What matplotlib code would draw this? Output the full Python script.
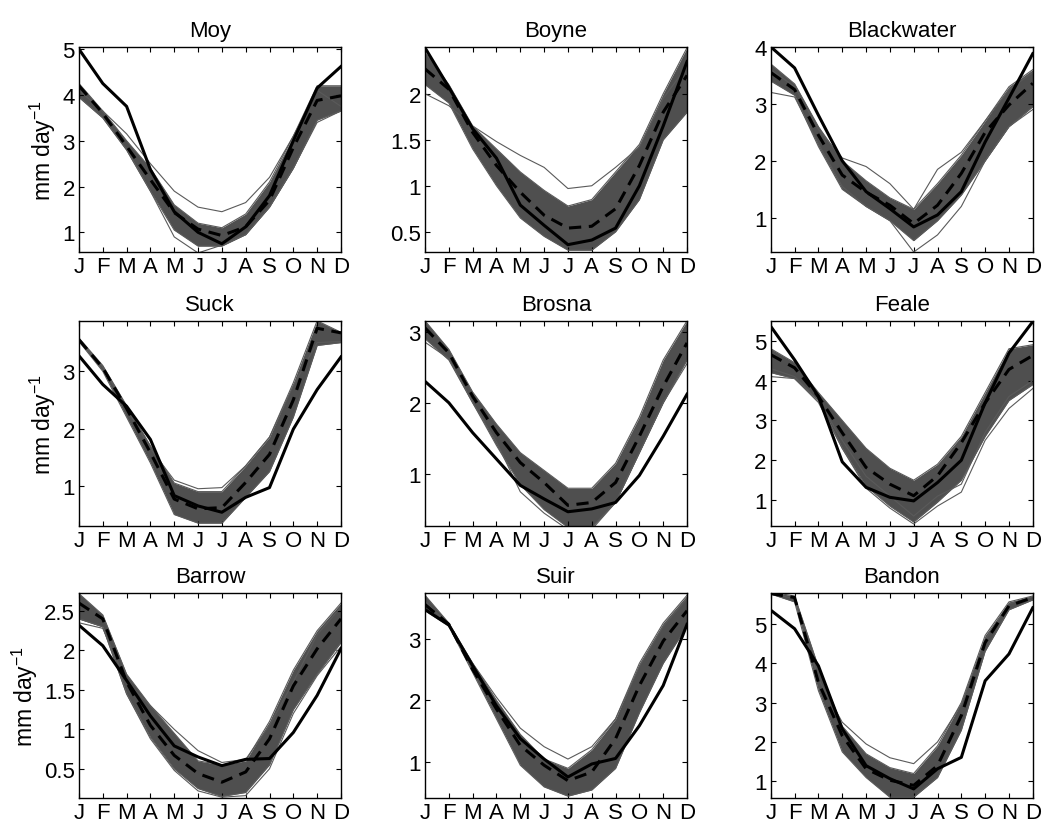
import matplotlib
matplotlib.use("Agg")
from matplotlib import pyplot as plt
from matplotlib.ticker import FormatStrFormatter

plt.rcParams['font.family'] = ['Liberation Sans', 'DejaVu Sans']
plt.rcParams['mathtext.fontset'] = 'custom'
plt.rcParams['mathtext.rm'] = 'Liberation Sans'

months = ['J', 'F', 'M', 'A', 'M', 'J', 'J', 'A', 'S', 'O', 'N', 'D']

# observed (solid), ensemble mean (dashed), ensemble core band, outlier members
moy_obs = [5.0, 4.25, 3.75, 2.37, 1.45, 1.0, 0.75, 1.12, 1.8, 3.0, 4.15, 4.62]
moy_mean = [4.2, 3.6, 2.88, 2.15, 1.43, 1.07, 0.93, 1.12, 1.7, 2.85, 3.88, 3.98]
moy_hi = [4.25, 3.65, 3.0, 2.4, 1.6, 1.2, 1.1, 1.4, 2.1, 3.1, 4.2, 4.2]
moy_lo = [3.95, 3.5, 2.8, 1.9, 1.05, 0.7, 0.7, 0.95, 1.55, 2.4, 3.45, 3.65]
moy_out = [[4.1, 3.65, 3.15, 2.5, 1.9, 1.55, 1.45, 1.65, 2.2, 3.1, 4.1, 3.75],
           [3.95, 3.5, 2.8, 1.9, 0.9, 0.55, 0.72, 0.95, 1.55, 2.4, 3.4, 3.65]]

boyne_obs = [2.5, 2.07, 1.62, 1.3, 0.79, 0.57, 0.36, 0.41, 0.54, 1.0, 1.65, 2.35]
boyne_mean = [2.27, 2.05, 1.58, 1.22, 0.93, 0.68, 0.54, 0.56, 0.75, 1.22, 1.8, 2.2]
boyne_hi = [2.45, 2.1, 1.65, 1.4, 1.15, 0.95, 0.78, 0.85, 1.15, 1.45, 2.0, 2.5]
boyne_lo = [2.1, 1.9, 1.4, 1.0, 0.65, 0.45, 0.3, 0.3, 0.5, 0.85, 1.5, 1.8]
boyne_out = [[2.0, 1.87, 1.65, 1.48, 1.33, 1.2, 0.97, 1.0, 1.2, 1.42, 1.95, 2.3]]

blackwater_obs = [4.0, 3.63, 2.8, 2.0, 1.46, 1.16, 0.84, 1.05, 1.46, 2.33, 3.1, 3.88]
blackwater_mean = [3.55, 3.25, 2.45, 1.75, 1.45, 1.22, 0.9, 1.22, 1.78, 2.5, 2.98, 3.36]
blackwater_hi = [3.7, 3.35, 2.6, 2.0, 1.65, 1.35, 1.15, 1.6, 2.1, 2.7, 3.3, 3.6]
blackwater_lo = [3.4, 3.15, 2.25, 1.5, 1.2, 0.95, 0.6, 0.95, 1.4, 2.0, 2.6, 2.95]
blackwater_out = [[3.6, 3.3, 2.55, 2.05, 1.9, 1.6, 1.15, 1.85, 2.15, 2.7, 3.25, 3.55],
                  [3.2, 3.12, 2.3, 1.55, 1.2, 0.95, 0.4, 0.7, 1.2, 2.0, 2.6, 2.9]]

suck_obs = [3.27, 2.77, 2.39, 1.81, 0.83, 0.65, 0.54, 0.8, 0.97, 1.99, 2.68, 3.25]
suck_mean = [3.55, 3.06, 2.35, 1.58, 0.77, 0.6, 0.62, 1.06, 1.55, 2.5, 3.75, 3.67]
suck_hi = [3.58, 3.1, 2.4, 1.7, 1.05, 0.9, 0.9, 1.35, 1.85, 2.8, 3.88, 3.68]
suck_lo = [3.52, 3.0, 2.2, 1.4, 0.5, 0.35, 0.35, 0.8, 1.25, 2.2, 3.45, 3.5]
suck_out = [[3.55, 3.08, 2.35, 1.65, 1.1, 0.95, 0.97, 1.35, 1.85, 2.75, 3.5, 3.52]]

brosna_obs = [2.3, 2.0, 1.58, 1.21, 0.84, 0.65, 0.47, 0.51, 0.6, 0.98, 1.53, 2.12]
brosna_mean = [3.05, 2.7, 2.09, 1.58, 1.16, 0.88, 0.56, 0.6, 0.88, 1.53, 2.23, 2.84]
brosna_hi = [3.15, 2.75, 2.15, 1.7, 1.3, 1.05, 0.8, 0.8, 1.15, 1.8, 2.6, 3.15]
brosna_lo = [2.9, 2.6, 2.0, 1.4, 0.85, 0.5, 0.25, 0.25, 0.6, 1.3, 2.0, 2.6]
brosna_out = [[2.85, 2.62, 2.0, 1.45, 0.75, 0.45, 0.22, 0.22, 0.6, 1.3, 2.0, 2.55]]

feale_obs = [5.36, 4.52, 3.6, 1.96, 1.32, 1.07, 0.98, 1.44, 2.0, 3.44, 4.69, 5.48]
feale_mean = [4.65, 4.32, 3.6, 2.69, 1.82, 1.4, 1.11, 1.61, 2.44, 3.44, 4.28, 4.63]
feale_hi = [4.8, 4.45, 3.7, 3.0, 2.3, 1.8, 1.5, 1.9, 2.6, 3.7, 4.8, 4.9]
feale_lo = [4.2, 4.05, 3.5, 2.3, 1.35, 0.85, 0.45, 0.95, 1.5, 2.6, 3.5, 3.9]
feale_out = [[4.1, 4.05, 3.45, 2.3, 1.3, 0.8, 0.4, 0.85, 1.2, 2.5, 3.3, 3.8],
             [4.3, 4.1, 3.5, 2.5, 1.6, 1.1, 0.6, 1.1, 1.4, 2.7, 3.6, 4.0]]

barrow_obs = [2.32, 2.06, 1.62, 1.17, 0.79, 0.65, 0.54, 0.62, 0.63, 0.96, 1.43, 2.02]
barrow_mean = [2.6, 2.4, 1.6, 1.05, 0.67, 0.44, 0.33, 0.46, 0.88, 1.55, 2.02, 2.4]
barrow_hi = [2.72, 2.45, 1.7, 1.3, 0.95, 0.6, 0.55, 0.6, 1.1, 1.75, 2.25, 2.6]
barrow_lo = [2.4, 2.3, 1.45, 0.9, 0.5, 0.25, 0.15, 0.2, 0.55, 1.25, 1.7, 2.1]
barrow_out = [[2.35, 2.28, 1.6, 1.3, 1.0, 0.73, 0.58, 0.62, 1.05, 1.6, 2.2, 2.55],
              [2.4, 2.3, 1.45, 0.88, 0.48, 0.22, 0.14, 0.16, 0.5, 1.2, 1.68, 2.05]]

suir_obs = [3.47, 3.22, 2.56, 1.91, 1.38, 1.05, 0.76, 0.97, 1.06, 1.59, 2.24, 3.23]
suir_mean = [3.55, 3.23, 2.5, 1.86, 1.27, 0.95, 0.7, 0.84, 1.38, 2.24, 2.96, 3.45]
suir_hi = [3.7, 3.25, 2.6, 2.0, 1.45, 1.05, 0.9, 1.2, 1.7, 2.6, 3.25, 3.7]
suir_lo = [3.45, 3.2, 2.45, 1.7, 0.95, 0.6, 0.45, 0.55, 0.9, 1.8, 2.6, 3.2]
suir_out = [[3.6, 3.22, 2.6, 2.05, 1.55, 1.25, 1.05, 1.25, 1.7, 2.55, 3.2, 3.65]]

bandon_obs = [5.34, 4.87, 3.93, 2.33, 1.4, 1.07, 0.81, 1.32, 1.61, 3.55, 4.23, 5.4]
bandon_mean = [5.76, 5.66, 3.51, 2.16, 1.32, 1.03, 0.9, 1.4, 2.67, 4.52, 5.45, 5.66]
bandon_hi = [5.8, 5.7, 3.9, 2.4, 1.7, 1.35, 1.2, 1.9, 3.0, 4.7, 5.55, 5.7]
bandon_lo = [5.75, 5.55, 3.3, 1.75, 1.1, 0.6, 0.6, 1.1, 2.3, 4.3, 5.35, 5.6]
bandon_out = [[5.78, 5.62, 3.6, 2.5, 1.95, 1.6, 1.45, 2.0, 2.95, 4.6, 5.5, 5.68]]

rivers = ['Moy', 'Boyne', 'Blackwater', 'Suck', 'Brosna', 'Feale', 'Barrow', 'Suir', 'Bandon']
panels = [
    (moy_obs, moy_mean, moy_hi, moy_lo, moy_out, (0.57, 5.05), [1, 2, 3, 4, 5]),
    (boyne_obs, boyne_mean, boyne_hi, boyne_lo, boyne_out, (0.28, 2.51), [0.5, 1, 1.5, 2]),
    (blackwater_obs, blackwater_mean, blackwater_hi, blackwater_lo, blackwater_out, (0.40, 4.0), [1, 2, 3, 4]),
    (suck_obs, suck_mean, suck_hi, suck_lo, suck_out, (0.30, 3.88), [1, 2, 3]),
    (brosna_obs, brosna_mean, brosna_hi, brosna_lo, brosna_out, (0.27, 3.15), [1, 2, 3]),
    (feale_obs, feale_mean, feale_hi, feale_lo, feale_out, (0.35, 5.5), [1, 2, 3, 4, 5]),
    (barrow_obs, barrow_mean, barrow_hi, barrow_lo, barrow_out, (0.13, 2.73), [0.5, 1, 1.5, 2, 2.5]),
    (suir_obs, suir_mean, suir_hi, suir_lo, suir_out, (0.42, 3.74), [1, 2, 3]),
    (bandon_obs, bandon_mean, bandon_hi, bandon_lo, bandon_out, (0.58, 5.78), [1, 2, 3, 4, 5]),
]

fig = plt.figure(figsize=(10.43, 8.29), dpi=100)
lefts = [0.0757, 0.4075, 0.739]
bottoms = [0.6948, 0.3643, 0.0362]
x = list(range(1, 13))
grey = '#4f4f4f'

for i, (name, (obs, mean, hi, lo, out, ylim, yt)) in enumerate(zip(rivers, panels)):
    ax = fig.add_axes([lefts[i % 3], bottoms[i // 3], 0.2512, 0.2475])
    ax.fill_between(x, lo, hi, color=grey, lw=0)
    ax.plot(x, hi, color='#5a5a5a', lw=0.8)
    ax.plot(x, lo, color='#5a5a5a', lw=0.8)
    for o in out:
        ax.plot(x, o, color='#5a5a5a', lw=0.8)
    ax.plot(x, mean, color='black', lw=2.2, ls=(0, (4, 2.5)))
    ax.plot(x, obs, color='black', lw=2.2)
    ax.set_xlim(1, 12)
    ax.set_ylim(*ylim)
    ax.set_xticks(x)
    ax.set_xticklabels(months)
    ax.set_yticks(yt)
    ax.yaxis.set_major_formatter(FormatStrFormatter('%g'))
    ax.tick_params(direction='in', length=3.5, width=0.8, labelsize=16, pad=3,
                   top=True, right=True)
    for s in ax.spines.values():
        s.set_linewidth(1.0)
    ax.set_title(name, fontsize=16, pad=8)
    if i % 3 == 0:
        ax.set_ylabel('mm day$^{-1}$', fontsize=16.5, labelpad=3)

fig.savefig('out.png', dpi=100)
